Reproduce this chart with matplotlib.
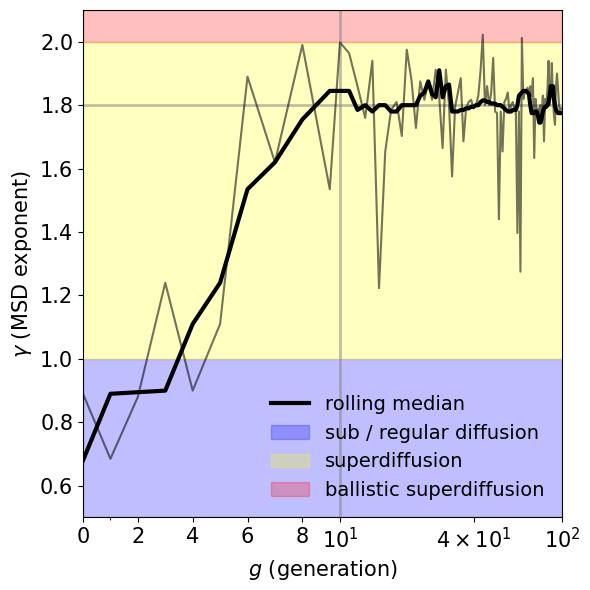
import numpy as np
import matplotlib
matplotlib.use("Agg")
import matplotlib.pyplot as plt

generations = list(range(0, 101))

gamma_raw = [
    0.89, 0.685, 0.88, 1.24, 0.90, 1.11, 1.89, 1.62, 1.99, 1.535,   # 0-9
    1.998, 1.964, 1.86, 1.76, 1.94, 1.223, 1.654, 1.785, 1.81, 1.703,  # 10-19
    1.975, 1.88, 1.728, 1.875, 1.817, 1.875, 1.817, 1.912, 1.827, 1.665,  # 20-29
    1.912, 1.80, 1.575, 1.795, 1.84, 1.885, 1.686, 1.79, 1.81, 1.817,  # 30-39
    1.79, 1.80, 1.83, 1.91, 2.022, 1.80, 1.86, 1.80, 1.84, 1.949,  # 40-49
    1.78, 1.775, 1.44, 1.78, 1.654, 1.81, 1.82, 1.84, 1.78, 1.80,  # 50-59
    1.81, 1.79, 1.775, 1.397, 1.78, 1.275, 2.012, 1.82, 1.84, 1.845,  # 60-69
    1.855, 1.84, 1.86, 1.83, 1.885, 1.633, 1.82, 1.775, 1.79, 1.745,  # 70-79
    1.80, 1.76, 1.83, 1.686, 1.82, 1.80, 1.85, 1.94, 1.80, 1.85,  # 80-89
    1.933, 1.82, 1.77, 1.738, 1.86, 1.90, 1.85, 1.80, 1.78, 1.79,  # 90-99
    1.79,  # 100
]

gamma_median = [
    0.68, 0.89, 0.895, 0.90, 1.11, 1.24, 1.535, 1.62, 1.755, 1.845,  # 0-9
    1.845, 1.845, 1.785, 1.80, 1.78, 1.80, 1.80, 1.78, 1.78, 1.80,  # 10-19
    1.80, 1.80, 1.80, 1.83, 1.84, 1.875, 1.835, 1.825, 1.91, 1.825,  # 20-29
    1.86, 1.865, 1.78, 1.78, 1.78, 1.785, 1.785, 1.79, 1.79, 1.795,  # 30-39
    1.795, 1.80, 1.80, 1.81, 1.815, 1.815, 1.81, 1.81, 1.805, 1.805,  # 40-49
    1.805, 1.80, 1.80, 1.80, 1.795, 1.79, 1.785, 1.78, 1.78, 1.78,  # 50-59
    1.785, 1.785, 1.785, 1.80, 1.83, 1.835, 1.84, 1.845, 1.845, 1.845,  # 60-69
    1.84, 1.835, 1.80, 1.775, 1.775, 1.775, 1.78, 1.78, 1.765, 1.745,  # 70-79
    1.745, 1.76, 1.78, 1.79, 1.795, 1.795, 1.80, 1.81, 1.83, 1.86,  # 80-89
    1.86, 1.86, 1.82, 1.80, 1.785, 1.78, 1.775, 1.775, 1.775, 1.775,  # 90-99
    1.775,  # 100
]

band_edges = [0.5, 1.0, 2.0, 2.1]
band_colors = ["blue", "yellow", "red"]
band_labels = ["sub / regular diffusion", "superdiffusion", "ballistic superdiffusion"]

xtick_vals = [0, 2, 4, 6, 8, 10, 40, 100]
xtick_labels = ["0", "2", "4", "6", "8", r"$10^1$", r"$4\times10^1$", r"$10^2$"]
yticks = [0.6, 0.8, 1.0, 1.2, 1.4, 1.6, 1.8, 2.0]

fig = plt.figure(figsize=(5.9, 5.9), dpi=100)
ax = fig.add_axes([0.1407, 0.1229, 0.8118, 0.8601])

spans = []
for lo, hi, c, lab in zip(band_edges[:-1], band_edges[1:], band_colors, band_labels):
    spans.append(ax.axhspan(lo, hi, color=c, alpha=0.25, label=lab))

ax.axhline(1.8, color="gray", alpha=0.5, lw=2)
ax.axvline(10, color="gray", alpha=0.5, lw=2)

ax.plot(generations, gamma_raw, color="black", alpha=0.55, lw=1.5)
med, = ax.plot(generations, gamma_median, color="black", lw=3, label="rolling median")

ax.set_xscale("symlog", linthresh=9, linscale=1)
ax.set_xlim(0, 100)
ax.set_ylim(0.5, 2.1)
ax.set_xticks(xtick_vals, labels=xtick_labels)
ax.set_xticks([1], minor=True)
ax.set_xticklabels([], minor=True)
ax.set_yticks(yticks)
ax.tick_params(labelsize=15)

ax.set_xlabel(r"$g$ (generation)", fontsize=15)
ax.set_ylabel(r"$\gamma$ (MSD exponent)", fontsize=15)

ax.legend(handles=[med] + spans, loc="lower right", fontsize=14, frameon=False)

fig.savefig("out.png", dpi=100)
